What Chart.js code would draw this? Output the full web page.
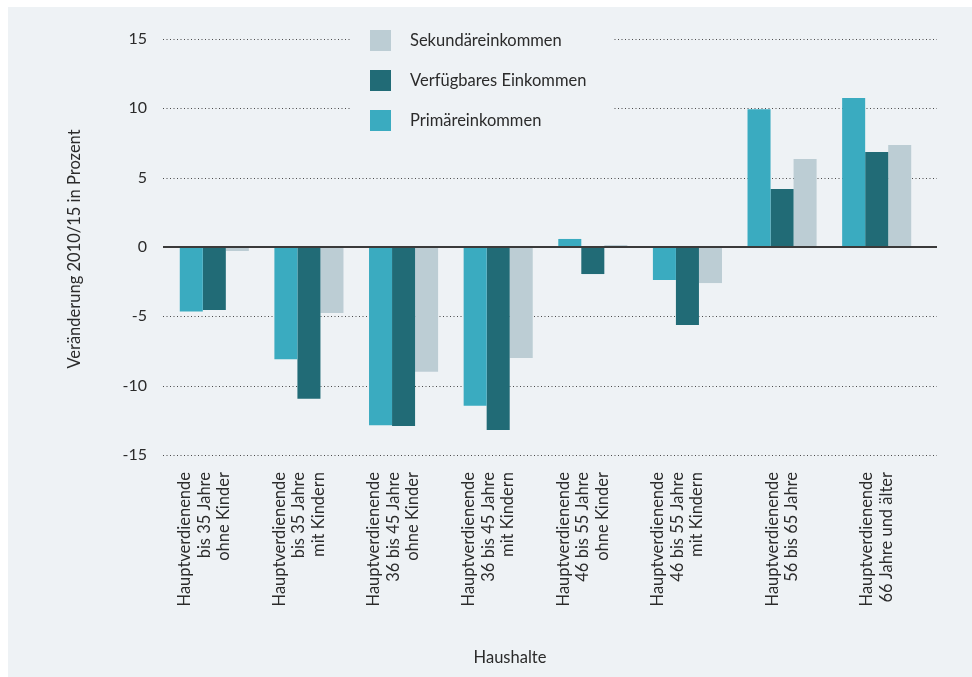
<!DOCTYPE html>
<html><head><meta charset="utf-8">
<script src="https://cdn.jsdelivr.net/npm/chart.js@4.4.0/dist/chart.umd.min.js"></script>
<style>html,body{margin:0;padding:0;background:#fff;}#wrap{width:972px;height:677px;position:relative;}</style>
</head><body><div id="wrap"><canvas id="c" width="972" height="677"></canvas></div>
<script>
const categories = [
  ["Hauptverdienende", "bis 35 Jahre", "ohne Kinder"],
  ["Hauptverdienende", "bis 35 Jahre", "mit Kindern"],
  ["Hauptverdienende", "36 bis 45 Jahre", "ohne Kinder"],
  ["Hauptverdienende", "36 bis 45 Jahre", "mit Kindern"],
  ["Hauptverdienende", "46 bis 55 Jahre", "ohne Kinder"],
  ["Hauptverdienende", "46 bis 55 Jahre", "mit Kindern"],
  ["Hauptverdienende", "56 bis 65 Jahre"],
  ["Hauptverdienende", "66 Jahre und älter"]
];
const primaereinkommen = [-4.65, -8.1, -12.85, -11.45, 0.58, -2.38, 9.93, 10.74];
const verfuegbaresEinkommen = [-4.55, -10.95, -12.9, -13.2, -1.95, -5.62, 4.18, 6.85];
const sekundaereinkommen = [-0.29, -4.76, -9.0, -8.0, 0.14, -2.6, 6.34, 7.35];
const seriesNames = ["Primäreinkommen", "Verfügbares Einkommen", "Sekundäreinkommen"];
const yTickValues = [-15, -10, -5, 0, 5, 10, 15];
const yAxisTitle = "Veränderung 2010/15 in Prozent";
const xAxisTitle = "Haushalte";

const FONT = "Lato, 'Open Sans', sans-serif";
const TEXT = "#2b2b2b";
const PANEL = "#eef2f5";
const LH = 19.5;
const FS = 16.5;

const decor = {
  id: 'decor',
  beforeDraw(chart) {
    const c = chart.ctx;
    c.save();
    c.fillStyle = '#ffffff';
    c.fillRect(0, 0, chart.width, chart.height);
    c.fillStyle = PANEL;
    c.fillRect(8, 7, 964, 670);
    c.restore();
  },
  beforeDatasetsDraw(chart) {
    const c = chart.ctx, y = chart.scales.y;
    c.save();
    c.strokeStyle = '#4a4a4a';
    c.lineWidth = 1;
    c.setLineDash([1, 2.5]);
    y.ticks.forEach(t => {
      if (t.value === 0) return;
      const py = Math.round(y.getPixelForValue(t.value)) + 0.5;
      c.beginPath(); c.moveTo(163, py); c.lineTo(937, py); c.stroke();
    });
    c.restore();
  },
  afterDatasetsDraw(chart) {
    const c = chart.ctx, y = chart.scales.y, x = chart.scales.x;
    c.save();
    const z = y.getPixelForValue(0);
    c.strokeStyle = '#3a3a3a';
    c.lineWidth = 2;
    c.beginPath(); c.moveTo(163, z); c.lineTo(937, z); c.stroke();
    // legend
    c.fillStyle = PANEL;
    c.fillRect(350, 22, 262, 118);
    const ds = chart.data.datasets.slice().reverse();
    c.font = FS + "px " + FONT;
    c.textBaseline = 'middle';
    c.textAlign = 'left';
    ds.forEach((d, i) => {
      c.fillStyle = d.backgroundColor;
      c.fillRect(370, 30 + 40 * i, 21, 21);
      c.fillStyle = TEXT;
      c.fillText(d.label, 410, 41 + 40 * i);
    });
    // category labels, rotated
    const top = chart.chartArea.bottom + 17;
    chart.data.labels.forEach((lines, i) => {
      const n = lines.length;
      const px = x.getPixelForValue(i);
      const start = px - (n - 1) * LH / 2 - (n - 2) * 10;
      lines.forEach((t, k) => {
        c.save();
        c.translate(start + k * LH, top);
        c.rotate(-Math.PI / 2);
        c.textAlign = 'right';
        c.textBaseline = 'middle';
        c.fillStyle = TEXT;
        c.fillText(t, 0, 0);
        c.restore();
      });
    });
    // axis titles
    c.fillStyle = TEXT;
    c.textAlign = 'center';
    c.fillText(xAxisTitle, 510, 658);
    c.translate(75, 249);
    c.rotate(-Math.PI / 2);
    c.fillText(yAxisTitle, 0, 0);
    c.restore();
  }
};

new Chart(document.getElementById('c'), {
  type: 'bar',
  data: {
    labels: categories,
    datasets: [
      { label: seriesNames[0], data: primaereinkommen, backgroundColor: '#3aabc0' },
      { label: seriesNames[1], data: verfuegbaresEinkommen, backgroundColor: '#216b76' },
      { label: seriesNames[2], data: sekundaereinkommen, backgroundColor: '#bccdd4' }
    ]
  },
  options: {
    responsive: false,
    animation: false,
    devicePixelRatio: 1,
    layout: { padding: { top: 39, right: 48, left: 0, bottom: 0 } },
    datasets: { bar: { barPercentage: 1, categoryPercentage: 0.73 } },
    plugins: { legend: { display: false }, tooltip: { enabled: false } },
    scales: {
      x: {
        grid: { display: false, drawTicks: false },
        border: { display: false },
        ticks: { display: false, autoSkip: false },
        afterFit: s => { s.height = 222; }
      },
      y: {
        min: -15, max: 15,
        afterBuildTicks: s => { s.ticks = yTickValues.map(v => ({ value: v })); },
        grid: { display: false, drawTicks: false },
        border: { display: false },
        ticks: { padding: 20, color: TEXT, font: { family: FONT, size: 16 } },
        afterFit: s => { s.width = 167; }
      }
    }
  },
  plugins: [decor]
});
</script></body></html>
